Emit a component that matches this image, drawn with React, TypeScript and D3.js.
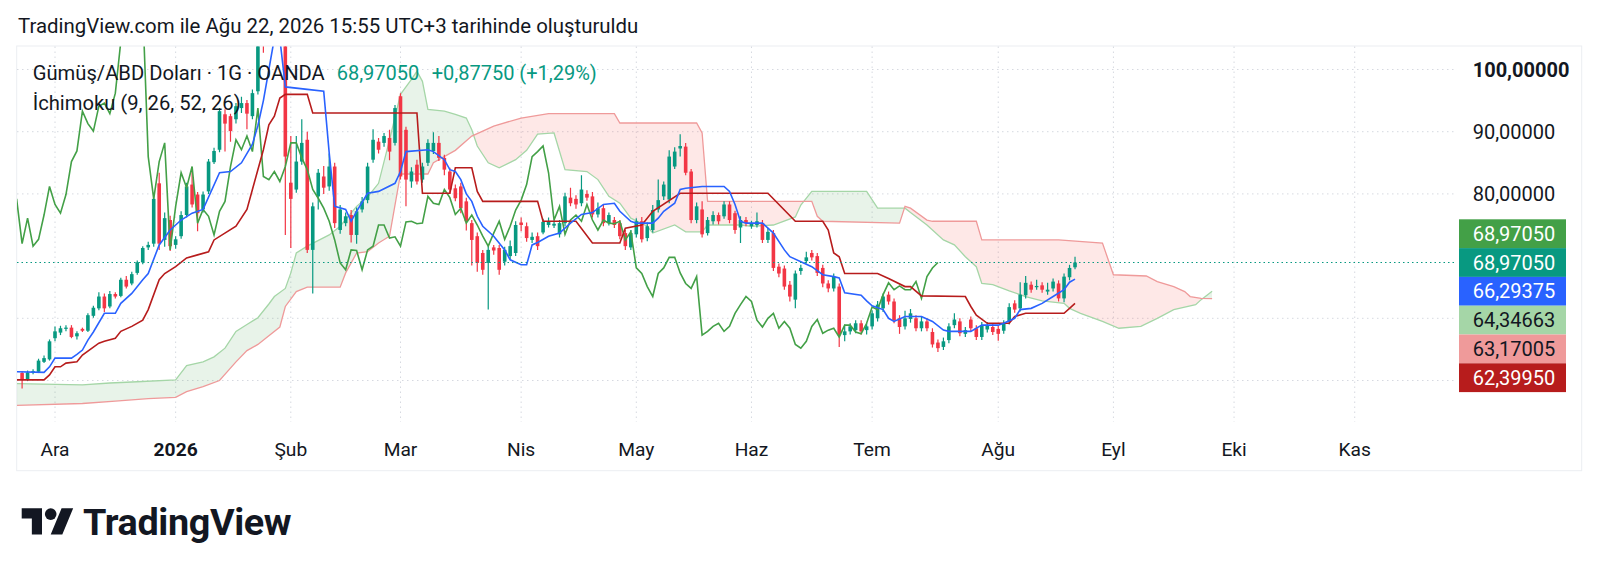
import * as d3 from "d3";

// Gümüş/ABD Doları günlük mumlar, 21 Kas 2025 - 21 Ağu 2026 (OANDA)
// [open, high, low, close]
const ohlc: [number, number, number, number][] = [
  [51.2, 51.5, 48.7, 50.1], [50.1, 51.6, 49.9, 51.3], [51.3, 51.8, 51.0, 51.5], [51.4, 53.5, 51.2, 53.2],
  [53.0, 54.0, 52.8, 53.6], [53.4, 56.6, 53.2, 56.3],
  // Ara
  [56.8, 58.7, 56.3, 57.9], [57.7, 58.8, 57.3, 58.4], [58.3, 58.9, 57.9, 58.5], [58.5, 58.9, 56.8, 57.0],
  [57.1, 57.9, 56.6, 57.6], [58.3, 58.5, 57.8, 58.0], [58.0, 60.8, 57.8, 60.5], [60.4, 62.0, 60.1, 61.7],
  [61.6, 64.2, 61.3, 63.5], [63.5, 64.0, 61.0, 61.6], [61.9, 64.4, 61.6, 63.9], [63.9, 64.2, 63.2, 63.5],
  [63.6, 66.5, 63.4, 66.2], [66.2, 66.8, 64.8, 65.1], [65.6, 67.5, 65.3, 67.1], [67.3, 69.3, 67.0, 69.0],
  [69.0, 71.6, 68.7, 71.3], [71.4, 72.3, 71.0, 71.8], [72.0, 80.0, 71.5, 79.2], [81.7, 83.4, 71.0, 72.0],
  [72.6, 77.0, 71.5, 76.1], [75.8, 76.5, 70.8, 71.6],
  // Oca
  [71.8, 73.2, 71.2, 72.7], [73.2, 77.2, 72.8, 76.6], [76.6, 81.8, 76.2, 81.2], [81.5, 84.0, 77.8, 78.3],
  [79.9, 80.3, 74.0, 76.9], [77.5, 80.4, 77.0, 79.9], [80.4, 85.6, 80.0, 85.2], [85.1, 87.4, 84.8, 86.9],
  [87.1, 93.8, 86.7, 93.3], [92.8, 93.6, 86.8, 91.3], [92.5, 92.9, 88.4, 90.1], [92.0, 94.6, 91.3, 94.1],
  [93.8, 95.6, 93.0, 94.6], [94.6, 95.1, 90.4, 92.9], [92.5, 96.8, 92.0, 96.2], [96.5, 105.5, 96.0, 104.5],
  [110.0, 112.0, 102.7, 106.0], [106.0, 115.0, 105.0, 113.5], [113.5, 121.5, 112.5, 117.5],
  [117.5, 123.0, 106.0, 110.0], [109.5, 110.0, 73.4, 86.0],
  // Şub
  [81.8, 89.3, 71.3, 79.2], [80.7, 89.3, 80.2, 85.2], [85.2, 92.0, 84.7, 88.2], [88.7, 90.0, 70.5, 71.0],
  [71.0, 78.6, 64.0, 78.0], [79.6, 84.0, 77.5, 83.4], [82.8, 84.5, 80.0, 81.0], [81.2, 86.5, 80.5, 84.4],
  [84.4, 85.0, 74.5, 75.3], [74.2, 78.2, 73.6, 77.5], [75.3, 77.0, 74.8, 76.4], [76.6, 77.4, 72.2, 73.4],
  [73.4, 77.8, 72.0, 77.2], [77.5, 79.5, 77.0, 78.8], [79.0, 85.0, 78.5, 84.4], [85.5, 90.4, 85.0, 88.7],
  [88.4, 89.0, 86.5, 87.1], [88.2, 89.8, 87.6, 89.3], [89.0, 90.3, 85.4, 86.8], [88.2, 94.3, 87.8, 93.8],
  // Mar
  [95.7, 96.2, 82.3, 82.8], [90.3, 90.8, 78.0, 82.3], [82.0, 84.3, 81.0, 83.6], [84.7, 85.5, 81.5, 82.0],
  [82.3, 85.0, 81.8, 84.4], [85.0, 88.8, 84.5, 88.2], [86.9, 89.9, 86.4, 88.2], [88.2, 89.3, 85.3, 85.8],
  [85.8, 86.3, 83.0, 83.9], [83.6, 84.2, 80.0, 80.7], [80.9, 81.5, 78.8, 79.3], [81.2, 81.8, 76.9, 77.7],
  [78.8, 79.4, 74.1, 75.6], [75.3, 75.8, 68.5, 72.6], [73.2, 73.8, 67.5, 68.9], [70.5, 71.0, 67.0, 67.8],
  [68.9, 71.6, 61.4, 71.0], [71.4, 71.8, 70.2, 70.9], [71.3, 71.8, 67.0, 67.8], [69.1, 71.5, 68.5, 71.0],
  [70.0, 72.5, 69.5, 71.6], [70.5, 75.6, 70.0, 75.0],
  // Nis
  [75.4, 76.2, 74.0, 75.0], [74.8, 75.4, 72.3, 72.9], [72.6, 73.8, 72.1, 73.1], [73.2, 73.8, 71.0, 71.6],
  [73.8, 76.0, 73.5, 75.5], [75.0, 76.2, 74.6, 75.6], [74.9, 75.8, 74.5, 75.2], [73.5, 75.8, 73.0, 75.3],
  [75.3, 80.2, 74.8, 79.6], [79.4, 81.0, 78.0, 78.5], [79.2, 79.8, 77.6, 78.3], [78.5, 83.0, 78.0, 80.7],
  [80.0, 80.6, 78.9, 79.4], [79.6, 80.3, 76.2, 76.7], [76.7, 78.6, 76.2, 77.7], [77.7, 78.2, 74.8, 75.3],
  [75.3, 77.0, 74.9, 76.6], [75.8, 76.3, 74.5, 75.0], [75.3, 75.8, 72.7, 73.2], [73.7, 74.2, 71.0, 71.6],
  [71.4, 74.2, 71.0, 73.7],
  // May
  [73.5, 76.1, 73.0, 75.6], [75.6, 76.3, 72.2, 72.7], [72.9, 75.4, 72.4, 74.8], [74.2, 78.2, 73.8, 77.4],
  [77.5, 82.3, 77.0, 79.0], [79.6, 82.0, 79.0, 81.5], [79.1, 87.0, 78.5, 86.0], [84.4, 87.5, 84.0, 86.8],
  [87.3, 89.6, 86.0, 87.7], [87.6, 88.2, 83.0, 83.4], [83.6, 84.0, 75.3, 75.8], [75.8, 78.6, 75.3, 78.0],
  [77.5, 78.8, 73.0, 73.5], [73.7, 76.3, 73.3, 75.8], [75.6, 77.2, 75.1, 76.6], [76.6, 77.0, 75.1, 75.6],
  [76.4, 78.8, 76.0, 78.3], [78.3, 78.8, 75.3, 75.8], [76.9, 77.3, 73.6, 74.2], [74.6, 76.4, 72.1, 75.8],
  [75.8, 76.3, 74.8, 75.3],
  // Haz
  [74.8, 75.7, 74.4, 75.2], [75.0, 77.0, 74.6, 75.6], [75.3, 75.8, 72.1, 72.6], [72.6, 74.5, 72.1, 73.9],
  [73.7, 74.2, 67.6, 68.1], [68.3, 68.8, 66.6, 67.2], [68.0, 68.5, 64.6, 65.1], [65.4, 66.0, 62.7, 63.5],
  [63.0, 67.7, 61.6, 67.2], [67.6, 68.6, 67.0, 68.1], [69.2, 70.7, 68.8, 69.8], [70.5, 71.0, 69.3, 69.8],
  [70.0, 70.5, 66.8, 67.3], [68.1, 68.6, 65.0, 65.6], [65.6, 66.1, 64.2, 64.8], [64.8, 67.2, 64.3, 66.7],
  [65.1, 65.6, 55.4, 57.3], [57.3, 59.0, 56.3, 57.9], [57.9, 59.2, 57.4, 58.7], [58.1, 59.7, 57.6, 59.2],
  [59.2, 59.7, 57.4, 57.9], [58.1, 59.2, 57.4, 58.7],
  // Tem
  [58.7, 61.3, 58.2, 60.8], [60.0, 62.8, 59.5, 62.2], [61.6, 64.0, 61.0, 63.5], [63.8, 64.3, 62.2, 62.7],
  [62.7, 63.2, 59.2, 59.7], [60.0, 60.5, 57.5, 58.6], [58.7, 61.2, 58.2, 60.0], [59.9, 61.5, 59.3, 60.8],
  [60.0, 60.5, 57.9, 58.4], [58.4, 60.3, 57.9, 59.5], [59.5, 60.0, 57.9, 58.4], [57.8, 58.4, 55.3, 55.8],
  [56.1, 56.6, 54.6, 55.2], [55.4, 56.9, 54.9, 56.3], [56.5, 59.2, 56.0, 58.7], [58.9, 60.8, 58.4, 59.8],
  [59.5, 60.0, 57.1, 57.6], [57.5, 58.6, 57.0, 58.1], [59.8, 60.3, 57.9, 58.4], [58.4, 58.9, 56.5, 57.0],
  [57.0, 59.4, 56.5, 58.9], [58.2, 59.4, 57.7, 58.9], [58.6, 59.1, 57.3, 57.8],
  // Ağu
  [58.3, 58.8, 56.4, 57.5], [58.0, 59.7, 57.5, 59.2], [59.4, 62.4, 59.0, 61.8], [62.4, 62.9, 60.9, 61.4],
  [61.6, 65.8, 61.1, 63.8], [63.7, 66.8, 63.2, 65.7], [65.4, 65.9, 64.1, 64.6], [65.0, 66.2, 64.6, 65.2],
  [65.3, 65.8, 64.1, 64.6], [64.3, 65.7, 63.8, 64.6], [64.8, 66.4, 64.3, 65.9], [65.6, 66.1, 62.7, 63.2],
  [63.2, 67.2, 62.6, 66.7], [66.6, 68.6, 66.1, 68.093], [68.2, 69.9, 67.9, 68.9705],
];

// Ichimoku lines, [bar index counted from 1 Ara 2025, value]
const tenkan: [number, number][] = [
  [-7, 51.4], [-2, 51.3], [-1, 52.2], [0, 53.6], [3, 53.6], [4, 54.2], [5, 54.9], [6, 56.5], [7, 57.8],
  [9, 60.8], [11, 60.8], [12, 62.4], [14, 64.0], [16, 66.2], [17, 67.2], [19, 71.8], [21, 74.2], [23, 75.8],
  [25, 76.9], [27, 77.5], [30, 83.4], [32, 83.6], [34, 85.0], [36, 88.0], [37, 91.0], [38, 95.0], [39, 100.0],
  [40, 105.0], [41, 105.0], [42, 97.2], [46, 96.8], [49, 96.5], [50, 86.6], [51, 78.0], [53, 77.5], [54, 75.6],
  [55, 77.2], [57, 80.1], [59, 80.4], [62, 81.7], [63, 83.6], [64, 86.8], [68, 87.1], [69, 86.8], [71, 85.5],
  [72, 83.9], [73, 83.6], [74, 82.3], [75, 80.0], [76, 78.8], [77, 76.4], [78, 74.8], [80, 73.2], [82, 71.0],
  [83, 69.4], [85, 68.6], [86, 68.6], [87, 71.8], [88, 72.2], [90, 73.2], [92, 73.7], [94, 75.3], [96, 76.7],
  [98, 77.0], [100, 78.3], [102, 78.5], [103, 77.2], [105, 75.6], [106, 75.3], [109, 75.3], [110, 76.1],
  [111, 77.2], [113, 78.5], [114, 80.7], [115, 80.9], [118, 81.2], [122, 81.2], [123, 80.4], [124, 78.3],
  [125, 75.6], [126, 75.3], [129, 75.3], [131, 73.7], [133, 71.0], [134, 69.9], [137, 68.7], [138, 68.3],
  [140, 67.0], [142, 66.7], [143, 66.5], [144, 64.1], [147, 63.7], [148, 62.8], [149, 62.0], [151, 61.4],
  [152, 60.0], [153, 59.5], [155, 60.3], [158, 60.3], [160, 59.5], [162, 58.1], [163, 57.9], [167, 57.9],
  [169, 58.9], [172, 58.9], [173, 59.2], [175, 60.0], [176, 61.4], [178, 61.6], [180, 62.4], [182, 63.5],
  [184, 64.6], [185, 65.8], [186, 66.29375],
];

const kijun: [number, number][] = [
  [-7, 50.1], [-2, 50.1], [-1, 50.9], [0, 52.2], [1, 52.2], [2, 52.8], [4, 53.0], [5, 54.1], [8, 56.0],
  [9, 56.3], [11, 56.8], [12, 57.9], [14, 58.7], [16, 59.7], [17, 61.4], [19, 66.2], [20, 67.2], [22, 68.3],
  [24, 69.7], [26, 70.2], [28, 70.7], [29, 72.6], [33, 74.8], [35, 77.5], [36, 80.7], [38, 87.1], [39, 91.1],
  [40, 92.5], [41, 95.4], [42, 96.0], [46, 96.0], [47, 93.0], [66, 93.0], [67, 80.1], [72, 80.1], [73, 84.2],
  [76, 84.2], [77, 80.4], [78, 78.8], [88, 78.8], [89, 75.6], [95, 75.6], [98, 72.1], [103, 72.1], [104, 74.5],
  [107, 75.0], [109, 77.2], [114, 80.1], [130, 80.1], [135, 75.6], [140, 75.6], [141, 74.2], [142, 70.5],
  [143, 69.9], [144, 67.2], [150, 67.2], [152, 66.4], [155, 65.1], [156, 65.1], [158, 63.6], [166, 63.5],
  [167, 61.9], [168, 60.5], [170, 59.2], [174, 59.2], [175, 60.3], [177, 60.8], [184, 60.8], [185, 61.6],
  [186, 62.3995],
];

const spanA: [number, number][] = [
  [-7, 49.5], [5, 49.3], [10, 49.6], [15, 49.8], [22, 50.1], [24, 52.4], [27, 53.0], [29, 53.8], [31, 55.2],
  [33, 57.9], [35, 59.0], [37, 60.1], [39, 62.3], [40, 63.5], [42, 64.8], [43, 67.3], [44, 70.5], [46, 71.6],
  [50, 73.4], [52, 74.8], [55, 78.0], [57, 79.5], [59, 81.7], [61, 88.7], [63, 96.0], [65, 98.4], [66, 99.7],
  [67, 98.1], [68, 93.6], [71, 93.3], [73, 92.8], [75, 92.2], [76, 90.3], [77, 87.7], [79, 85.0], [81, 84.2],
  [84, 85.5], [86, 87.0], [88, 89.6], [91, 89.8], [93, 83.9], [97, 83.6], [99, 82.3], [101, 79.6], [103, 78.5],
  [105, 76.1], [108, 74.8], [109, 73.7], [113, 75.0], [115, 73.9], [118, 73.9], [119, 75.0], [125, 75.0],
  [127, 74.8], [131, 75.0], [135, 76.3], [136, 78.2], [138, 80.4], [148, 80.4], [150, 77.7], [155, 77.7],
  [156, 77.0], [159, 75.0], [162, 72.6], [164, 71.8], [166, 69.9], [168, 68.3], [169, 65.6], [171, 65.4],
  [174, 64.4], [177, 63.5], [180, 62.8], [184, 62.4], [185, 61.6], [187, 60.8], [191, 59.5], [194, 58.4],
  [198, 58.7], [201, 60.0], [204, 61.4], [208, 62.2], [209, 63.0], [211, 64.34663],
];

const spanB: [number, number][] = [
  [-7, 46.0], [5, 46.3], [11, 46.7], [17, 47.1], [22, 47.3], [24, 48.2], [27, 49.0], [30, 50.0], [33, 53.0],
  [35, 54.8], [37, 55.8], [39, 57.2], [41, 58.6], [42, 61.9], [44, 64.3], [46, 65.0], [52, 65.0], [53, 67.3],
  [55, 70.5], [57, 70.7], [59, 72.1], [61, 73.2], [63, 83.2], [68, 83.2], [69, 85.0], [73, 87.0], [76, 89.3],
  [80, 90.9], [85, 92.2], [90, 92.9], [102, 92.9], [103, 91.4], [117, 91.4], [118, 89.8], [119, 78.8],
  [138, 78.8], [139, 76.4], [140, 75.6], [154, 75.3], [155, 78.0], [156, 77.7], [159, 75.8], [160, 75.6],
  [168, 75.6], [169, 72.6], [183, 72.6], [191, 72.1], [193, 67.0], [199, 66.8], [201, 65.9], [204, 65.1],
  [206, 64.3], [207, 63.5], [209, 63.2], [211, 63.17005],
];

const holidays = ["2025-12-25", "2026-01-01", "2026-04-03"];
const monthNames = ["Oca", "Şub", "Mar", "Nis", "May", "Haz", "Tem", "Ağu", "Eyl", "Eki", "Kas", "Ara"];
const gridValues = [100, 90, 80, 60, 50];
const axisLabels = [100, 90, 80];

const IDX0 = 6; // bars before 1 Ara 2025
const LAG = 25;

const UP = "#089981";
const DOWN = "#F23645";
const C_TENKAN = "#2962FF";
const C_KIJUN = "#B71C1C";
const C_CHIKOU = "#43A047";
const C_SPANA = "#A5D6A7";
const C_SPANB = "#EF9A9A";
const FONT = "Roboto, 'Noto Sans', sans-serif";
const TXT = "#131722";

const PLOT = { left: 17, right: 1455, top: 46.5, bottom: 422 };

function tradingDays(n: number) {
  const out: Date[] = [];
  const d = new Date(Date.UTC(2025, 10, 21));
  while (out.length < n) {
    const wd = d.getUTCDay();
    const iso = d.toISOString().slice(0, 10);
    if (wd !== 0 && wd !== 6 && !holidays.includes(iso)) out.push(new Date(d));
    d.setUTCDate(d.getUTCDate() + 1);
  }
  return out;
}

const fmt = (v: number) => d3.format(".5f")(v).replace(".", ",");

export default function App() {
  const days = tradingDays(250);
  const x = d3.scaleLinear().domain([6, 243]).range([55, 55 + 237 * 5.484]);
  const y = d3.scaleLinear().domain([50, 100]).range([380.5, 69.5]);

  const ticks = days
    .map((d, k) => ({ d, k }))
    .filter(({ d, k }) => k > 0 && d.getUTCMonth() !== days[k - 1].getUTCMonth())
    .filter(({ k }) => x(k) < PLOT.right);

  const kn = (p: [number, number]) => x(p[0] + IDX0);
  const line = d3.line<[number, number]>().x(kn).y((p) => y(p[1]));
  const areaUp = d3
    .area<[number, number]>()
    .x(kn)
    .y0(PLOT.top - 20)
    .y1((p) => y(p[1]));
  const areaDown = d3
    .area<[number, number]>()
    .x(kn)
    .y0(PLOT.bottom + 20)
    .y1((p) => y(p[1]));

  const chikou: [number, number][] = ohlc
    .map((c, k) => [k - LAG, c[3]] as [number, number])
    .filter((p) => p[0] >= -1);
  const chikouLine = d3
    .line<[number, number]>()
    .x((p) => x(p[0]))
    .y((p) => y(p[1]));

  const last = ohlc[ohlc.length - 1][3];
  const prev = ohlc[ohlc.length - 2][3];
  const chg = last - prev;
  const chgPct = (chg / prev) * 100;

  // value badges on the price scale, stacked around the price badge
  const BOX_H = 28.8;
  const badges = [
    { v: last, bg: C_CHIKOU, fg: "#fff" },
    { v: last, bg: UP, fg: "#fff" },
    { v: tenkan[tenkan.length - 1][1], bg: C_TENKAN, fg: "#fff" },
    { v: spanA[spanA.length - 1][1], bg: C_SPANA, fg: TXT },
    { v: spanB[spanB.length - 1][1], bg: C_SPANB, fg: TXT },
    { v: kijun[kijun.length - 1][1], bg: C_KIJUN, fg: "#fff" },
  ].map((b) => ({ ...b, cy: y(b.v) }));
  const anchor = 1;
  for (let i = anchor - 1; i >= 0; i--) badges[i].cy = Math.min(badges[i].cy, badges[i + 1].cy - BOX_H);
  for (let i = anchor + 1; i < badges.length; i++) badges[i].cy = Math.max(badges[i].cy, badges[i - 1].cy + BOX_H);

  const bodyW = 3.6;

  return (
    <svg
      width={1600}
      height={573}
      viewBox="0 0 1600 573"
      style={{ position: "absolute", left: 0, top: 0, background: "#fff" }}
      fontFamily={FONT}
    >
      <defs>
        <clipPath id="plot">
          <rect x={PLOT.left} y={PLOT.top} width={PLOT.right - PLOT.left} height={PLOT.bottom - PLOT.top} />
        </clipPath>
        <clipPath id="aboveB">
          <path d={areaUp(spanB) ?? ""} />
        </clipPath>
        <clipPath id="aboveA">
          <path d={areaUp(spanA) ?? ""} />
        </clipPath>
      </defs>

      <rect width={1600} height={573} fill="#fff" />

      <text x={18} y={33} fontSize={20.4} fill={TXT}>
        TradingView.com ile Ağu 22, 2026 15:55 UTC+3 tarihinde oluşturuldu
      </text>

      <rect x={16.7} y={46} width={1565} height={424.7} fill="none" stroke="#eceef2" strokeWidth={1} />

      {/* grid */}
      <g stroke="#d6d9e0" strokeWidth={1} strokeDasharray="1.5 3.5">
        {gridValues.map((v) => (
          <line key={v} x1={PLOT.left} x2={PLOT.right} y1={y(v)} y2={y(v)} />
        ))}
        {ticks.map(({ k }) => (
          <line key={k} x1={x(k)} x2={x(k)} y1={PLOT.top} y2={PLOT.bottom} />
        ))}
      </g>

      <g clipPath="url(#plot)">
        {/* cloud */}
        <g clipPath="url(#aboveB)">
          <path d={areaDown(spanA) ?? ""} fill="rgba(67,160,71,0.12)" />
        </g>
        <g clipPath="url(#aboveA)">
          <path d={areaDown(spanB) ?? ""} fill="rgba(244,67,54,0.12)" />
        </g>
        <path d={line(spanA) ?? ""} fill="none" stroke={C_SPANA} strokeWidth={1.3} />
        <path d={line(spanB) ?? ""} fill="none" stroke={C_SPANB} strokeWidth={1.3} />

        {/* candles */}
        {ohlc.map(([o, h, l, c], k) => {
          const col = c >= o ? UP : DOWN;
          const cx = x(k);
          const top = y(Math.max(o, c));
          const bh = Math.max(1, y(Math.min(o, c)) - top);
          return (
            <g key={k}>
              <line x1={cx} x2={cx} y1={y(h)} y2={y(l)} stroke={col} strokeWidth={1.2} />
              <rect x={cx - bodyW / 2} y={top} width={bodyW} height={bh} fill={col} />
            </g>
          );
        })}

        <path d={chikouLine(chikou) ?? ""} fill="none" stroke={C_CHIKOU} strokeWidth={1.6} />
        <path d={line(kijun) ?? ""} fill="none" stroke={C_KIJUN} strokeWidth={1.6} />
        <path d={line(tenkan) ?? ""} fill="none" stroke={C_TENKAN} strokeWidth={1.6} />

        <line
          x1={PLOT.left}
          x2={PLOT.right}
          y1={y(last)}
          y2={y(last)}
          stroke={UP}
          strokeWidth={1.2}
          strokeDasharray="1.5 3"
        />
      </g>

      {/* legend */}
      <text x={32.7} y={80} fontSize={20.2} fill={TXT}>
        Gümüş/ABD Doları · 1G · OANDA
      </text>
      <text x={336.7} y={80} fontSize={20} fill={UP}>
        {fmt(last)}
      </text>
      <text x={431.7} y={80} fontSize={20} fill={UP}>
        {`+${fmt(chg)} (+${d3.format(".2f")(chgPct).replace(".", ",")}%)`}
      </text>
      <text x={32.7} y={110} fontSize={20.2} fill={TXT}>
        İchimoku (9, 26, 52, 26)
      </text>

      {/* price scale */}
      {axisLabels.map((v) => (
        <text
          key={v}
          x={1472.7}
          y={y(v)}
          dy="0.35em"
          fontSize={20}
          fontWeight={v === 100 ? 700 : 400}
          fill={TXT}
        >
          {fmt(v)}
        </text>
      ))}
      {badges.map((b, i) => (
        <g key={i}>
          <rect x={1459} y={b.cy - BOX_H / 2} width={107} height={BOX_H} fill={b.bg} />
          <text x={1472.7} y={b.cy} dy="0.35em" fontSize={20} fill={b.fg}>
            {fmt(b.v)}
          </text>
        </g>
      ))}

      {/* time scale */}
      {ticks.map(({ d, k }) => (
        <text
          key={k}
          x={x(k)}
          y={449}
          dy="0.35em"
          textAnchor="middle"
          fontSize={19.2}
          fontWeight={d.getUTCMonth() === 0 ? 700 : 400}
          fill={TXT}
        >
          {d.getUTCMonth() === 0 ? String(d.getUTCFullYear()) : monthNames[d.getUTCMonth()]}
        </text>
      ))}

      {/* logo */}
      <g transform="translate(21.7,502.5) scale(1.45)" fill={TXT}>
        <path d="M14 22H7V11H0V4h14v18zM28 22h-8l7.5-18h8L28 22z" />
        <circle cx={20} cy={8} r={4} />
      </g>
      <text x={83} y={535} fontSize={37.8} fontWeight={700} fill={TXT} letterSpacing={-0.4}>
        TradingView
      </text>
    </svg>
  );
}
